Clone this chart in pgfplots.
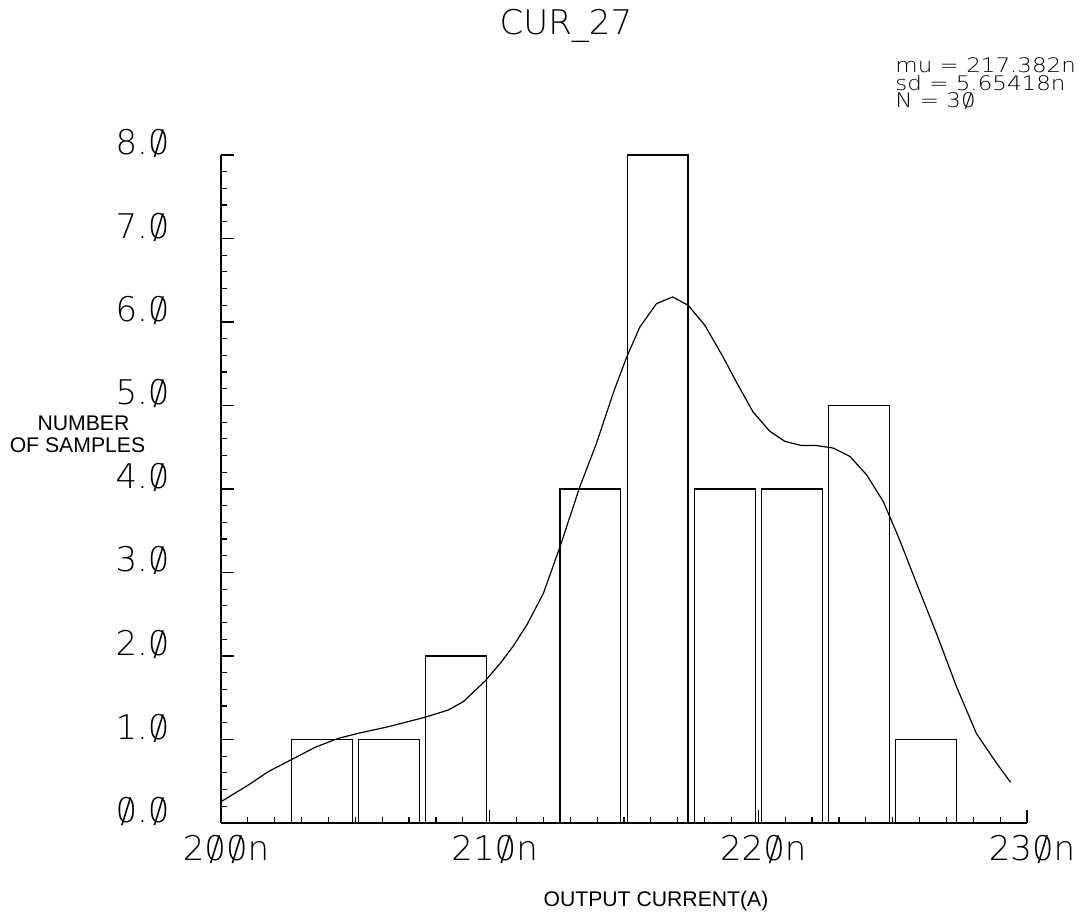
\documentclass[border=0pt]{standalone}
\usepackage{fontspec}
\setmainfont{Liberation Sans}
\IfFontExistsTF{DejaVu Sans ExtraLight}{%
  \newfontfamily\hfont{DejaVu Sans ExtraLight}%
  \newfontfamily\sfont[FakeStretch=1.15]{DejaVu Sans ExtraLight}%
  \newcommand\Z{\ooalign{0\cr\hidewidth\smash{/}\hidewidth\cr}}%
  \newcommand\hfs{17}%
}{%
  \newfontfamily\hfont[FakeStretch=0.88]{Liberation Mono}%
  \newfontfamily\sfont{Liberation Mono}%
  \newcommand\Z{Ø}%
  \newcommand\hfs{19}%
}
\usepackage{pgfplots}
\pgfplotsset{compat=1.18}
\begin{document}
\begin{tikzpicture}
\path[use as bounding box] (-110.5pt,-46pt) rectangle (431.5pt,411.5pt);
\begin{axis}[
  scale only axis, width=403pt, height=334pt,
  xmin=200, xmax=230, ymin=0, ymax=8,
  axis x line=bottom, axis y line=left,
  axis line style={-, line width=0.6pt},
  xtick={200,210,220,230}, xticklabels={2\Z\Z n,21\Z n,22\Z n,23\Z n},
  minor x tick num=9,
  ytick={0,1,2,3,4,5,6,7,8},
  yticklabels={\Z.\Z,1.\Z,2.\Z,3.\Z,4.\Z,5.\Z,6.\Z,7.\Z,8.\Z},
  minor y tick num=4,
  tick align=inside,
  major tick length=6.5pt, minor tick length=3pt,
  tick style={black, line width=0.6pt},
  xticklabel style={font=\hfont\fontsize{\hfs}{\hfs}\selectfont, anchor=north, inner sep=0pt, yshift=-6pt, xshift=2.5pt},
  yticklabel style={font=\hfont\fontsize{\hfs}{\hfs}\selectfont, anchor=south east, inner sep=0pt, xshift=-25.5pt},
  clip=false,
]
\addplot[ybar, bar width=2.26, draw=black, fill=none, line width=0.6pt]
  coordinates {(203.75,1)(206.25,1)(208.75,2)(213.75,4)(216.25,8)(218.75,4)(221.25,4)(223.75,5)(226.25,1)};
\addplot[black, line width=0.6pt, line join=round]
  coordinates {
  (200.0,0.255)(201.02,0.455)(201.76,0.615)(202.6,0.755)(203.5,0.906)
  (204.37,1.014)(205.11,1.074)(206.23,1.153)(207.59,1.266)(208.46,1.353)
  (209.02,1.453)(209.83,1.70)(210.39,1.91)(210.88,2.12)(211.38,2.37)(212.0,2.75)
  (212.62,3.31)(213.36,4.03)(213.98,4.55)(214.6,5.15)(215.1,5.58)
  (215.59,5.94)(216.21,6.22)(216.81,6.30)(217.39,6.20)(218.01,5.96)
  (218.69,5.58)(219.2,5.27)(219.81,4.92)(220.43,4.69)(220.99,4.57)
  (221.61,4.52)(222.17,4.52)(222.79,4.49)(223.41,4.39)(224.03,4.17)
  (224.65,3.85)(225.21,3.43)(225.89,2.87)(226.63,2.27)(227.38,1.63)
  (228.12,1.07)(228.87,0.715)(229.39,0.487)};
\end{axis}
\node[anchor=base, inner sep=0pt, font=\hfont\fontsize{\hfs}{\hfs}\selectfont] at (172.5pt,394pt) {CUR\_27};
\node[anchor=base west, inner sep=0pt, font=\sfont\fontsize{10}{10}\selectfont] at (337pt,375pt) {mu = 217.382n};
\node[anchor=base west, inner sep=0pt, font=\sfont\fontsize{10}{10}\selectfont] at (337pt,366.25pt) {sd = 5.65418n};
\node[anchor=base west, inner sep=0pt, font=\sfont\fontsize{10}{10}\selectfont] at (337pt,357.75pt) {N = 3\Z};
\node[inner sep=0pt, font=\fontsize{10.6}{11}\selectfont] at (-68.75pt,199.75pt) {NUMBER};
\node[inner sep=0pt, font=\fontsize{10.6}{11}\selectfont] at (-71.75pt,189pt) {OF SAMPLES};
\node[anchor=base, inner sep=0pt, font=\fontsize{10.6}{11}\selectfont] at (217.5pt,-42pt) {OUTPUT CURRENT(A)};
\end{tikzpicture}
\end{document}
